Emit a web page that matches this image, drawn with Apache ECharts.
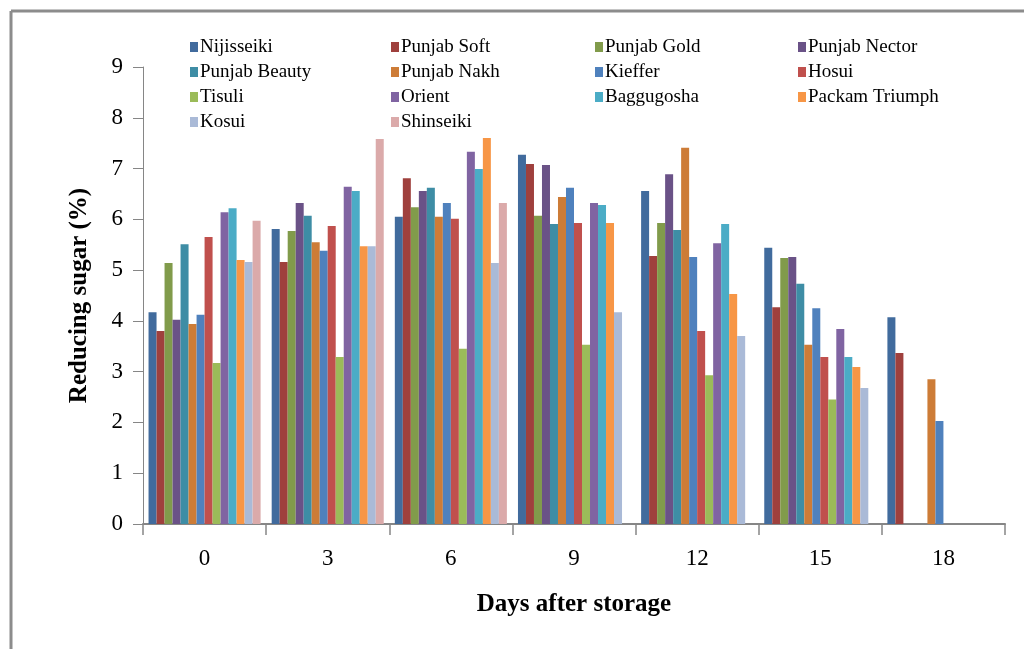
<!DOCTYPE html>
<html>
<head>
<meta charset="utf-8">
<script src="https://cdn.jsdelivr.net/npm/echarts@6/dist/echarts.min.js"></script>
<style>
  html, body { margin: 0; padding: 0; background: #ffffff; }
  #chart { width: 1024px; height: 649px; }
</style>
</head>
<body>
<div id="chart"></div>
<script>
// Days after storage (category axis)
const days = ['0', '3', '6', '9', '12', '15', '18'];

// Reducing sugar (%) per cultivar
const nijisseiki    = [4.17, 5.81, 6.05, 7.27, 6.56, 5.44, 4.07];
const punjabSoft    = [3.80, 5.16, 6.81, 7.09, 5.28, 4.27, 3.37];
const punjabGold    = [5.14, 5.77, 6.24, 6.07, 5.93, 5.24, null];
const punjabNector  = [4.02, 6.32, 6.56, 7.07, 6.89, 5.26, null];
const punjabBeauty  = [5.51, 6.07, 6.62, 5.91, 5.79, 4.73, null];
const punjabNakh    = [3.94, 5.55, 6.05, 6.44, 7.41, 3.53, 2.85];
const kieffer       = [4.12, 5.38, 6.32, 6.62, 5.26, 4.25, 2.03];
const hosui         = [5.65, 5.87, 6.01, 5.93, 3.80, 3.29, null];
const tisuli        = [3.17, 3.29, 3.45, 3.53, 2.93, 2.45, null];
const orient        = [6.14, 6.64, 7.33, 6.32, 5.53, 3.84, null];
const baggugosha    = [6.22, 6.56, 6.99, 6.28, 5.91, 3.29, null];
const packamTriumph = [5.20, 5.47, 7.60, 5.93, 4.53, 3.09, null];
const kosui         = [5.16, 5.47, 5.14, 4.17, 3.70, 2.68, null];
const shinseiki     = [5.97, 7.58, 6.32, null, null, null, null];

const seriesDefs = [
  ['Nijisseiki', nijisseiki, '#416B9D'],
  ['Punjab Soft', punjabSoft, '#9F403D'],
  ['Punjab Gold', punjabGold, '#819B4B'],
  ['Punjab Nector', punjabNector, '#6A5287'],
  ['Punjab Beauty', punjabBeauty, '#3E8DA5'],
  ['Punjab Nakh', punjabNakh, '#CD7C37'],
  ['Kieffer', kieffer, '#4F81BD'],
  ['Hosui', hosui, '#C0504D'],
  ['Tisuli', tisuli, '#9BBB59'],
  ['Orient', orient, '#8064A2'],
  ['Baggugosha', baggugosha, '#4BACC6'],
  ['Packam Triumph', packamTriumph, '#F79646'],
  ['Kosui', kosui, '#AABAD7'],
  ['Shinseiki', shinseiki, '#DBAAAA']
];

// Legend columns (read row by row, four per row)
const legendColumns = [
  ['Nijisseiki', 'Punjab Beauty', 'Tisuli', 'Kosui'],
  ['Punjab Soft', 'Punjab Nakh', 'Orient', 'Shinseiki'],
  ['Punjab Gold', 'Kieffer', 'Baggugosha'],
  ['Punjab Nector', 'Hosui', 'Packam Triumph']
];
const legendLefts = [185, 386, 590, 793];

const FONT = 'Liberation Serif';
const AXIS_GRAY = '#868686';

const chart = echarts.init(document.getElementById('chart'), null, { renderer: 'canvas' });

chart.setOption({
  backgroundColor: '#ffffff',
  animation: false,
  graphic: [
    { type: 'line', shape: { x1: 11, y1: 11, x2: 1024, y2: 11 }, style: { stroke: '#8c8c8c', lineWidth: 3 } },
    { type: 'line', shape: { x1: 11, y1: 11, x2: 11, y2: 649 }, style: { stroke: '#8c8c8c', lineWidth: 3 } }
  ],
  legend: legendColumns.map((col, i) => ({
    orient: 'vertical',
    left: legendLefts[i],
    top: 32,
    itemWidth: 8,
    itemHeight: 10,
    itemGap: 5,
    icon: 'rect',
    selectedMode: false,
    data: col,
    textStyle: { fontFamily: FONT, fontSize: 19, color: '#000', lineHeight: 20, padding: [0, 0, 0, -3] }
  })),
  grid: { left: 143, right: 19, top: 67, bottom: 125, containLabel: false },
  xAxis: {
    type: 'category',
    data: days,
    name: 'Days after storage',
    nameLocation: 'middle',
    nameGap: 68,
    nameTextStyle: { fontFamily: FONT, fontSize: 25, fontWeight: 'bold', color: '#000' },
    axisLine: { lineStyle: { color: AXIS_GRAY, width: 2 } },
    axisTick: { show: true, length: 11, lineStyle: { color: AXIS_GRAY, width: 1.5 } },
    axisLabel: { fontFamily: FONT, fontSize: 23, color: '#000', margin: 23 }
  },
  yAxis: {
    type: 'value',
    min: 0,
    max: 9,
    interval: 1,
    name: 'Reducing sugar (%)',
    nameLocation: 'middle',
    nameGap: 51,
    nameTextStyle: { fontFamily: FONT, fontSize: 25, fontWeight: 'bold', color: '#000' },
    axisLine: { show: true, lineStyle: { color: AXIS_GRAY, width: 1 } },
    axisTick: { show: true, length: 10, lineStyle: { color: AXIS_GRAY, width: 1 } },
    splitLine: { show: false },
    axisLabel: { fontFamily: FONT, fontSize: 23, color: '#000', margin: 20 }
  },
  series: seriesDefs.map(([name, values, color]) => ({
    name: name,
    type: 'bar',
    data: values,
    barGap: '0%',
    barCategoryGap: '9%',
    itemStyle: { color: color }
  }))
});
</script>
</body>
</html>
